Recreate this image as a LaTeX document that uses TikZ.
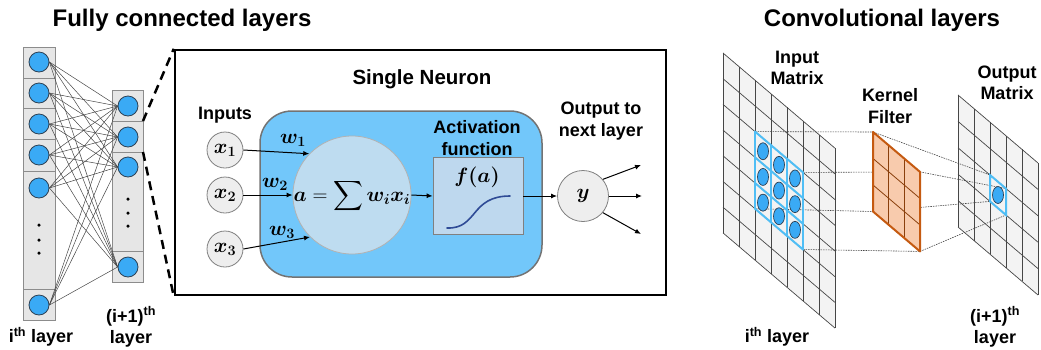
\documentclass[tikz,border=0pt]{standalone}
\usepackage{fontspec}
\setmainfont{Liberation Sans}
\usepackage{amsmath}
\usepackage{bm}
\usetikzlibrary{arrows.meta,shapes.geometric}
\pgfdeclarelayer{gridlayer}
\pgfdeclarelayer{linelayer}
\pgfsetlayers{gridlayer,linelayer,main}
\definecolor{nblue}{RGB}{58,170,245}
\definecolor{ndark}{RGB}{45,65,85}
\definecolor{cellfill}{RGB}{230,230,230}
\definecolor{cellline}{RGB}{140,140,140}
\definecolor{neurbg}{RGB}{114,199,250}
\definecolor{sumfill}{RGB}{190,220,240}
\definecolor{actfill}{RGB}{190,216,238}
\definecolor{inputfill}{RGB}{238,238,238}
\definecolor{sigblue}{RGB}{47,75,150}
\definecolor{gridfill}{RGB}{243,243,243}
\definecolor{gridline}{RGB}{70,70,70}
\definecolor{hiblue}{RGB}{80,190,245}
\definecolor{kfill}{RGB}{248,203,173}
\definecolor{kline}{RGB}{197,90,17}
\begin{document}
\begin{tikzpicture}[x=1pt,y=-1pt,
  title/.style={font=\fontsize{24}{28}\selectfont\bfseries},
  lab/.style={font=\fontsize{18}{21.5}\selectfont\bfseries, align=center, inner sep=0pt},
  mlab/.style={font=\fontsize{20}{22}\selectfont, inner sep=0pt},
  cellbox/.style={draw=cellline, fill=cellfill, line width=0.8pt},
  neuron/.style={circle, draw=ndark, fill=nblue, minimum size=20pt, inner sep=0pt, line width=0.8pt},
  fcline/.style={draw=gridline, line width=0.5pt},
  bigdash/.style={line width=2.5pt, dash pattern=on 9pt off 6pt},
  inc/.style={circle, draw=gray, fill=inputfill, minimum size=36pt, inner sep=0pt, line width=0.8pt, font=\fontsize{20}{22}\selectfont},
  arr/.style={-{Latex[length=6pt,width=5pt]}, line width=1pt},
  gline/.style={draw=gridline, line width=0.7pt},
  hib/.style={draw=hiblue, line width=2pt, line cap=round},
  dotell/.style={ellipse, draw=ndark, fill=nblue, minimum width=11pt, minimum height=17pt, inner sep=0pt, line width=0.7pt},
  dots/.style={circle, fill=black, minimum size=3.5pt, inner sep=0pt},
  dotline/.style={draw=gridline, line width=0.6pt, dash pattern=on 1.5pt off 1pt}
]
\useasboundingbox (0,0) rectangle (1041,349);

% ---------- titles ----------
\node[title] (t1) at (182,20) {Fully connected layers};
\node[title] (t2) at (882,20) {Convolutional layers};

% ---------- fully connected layers ----------
\draw[cellbox] (23,47) rectangle (55,78);
\draw[cellbox] (23,78) rectangle (55,108);
\draw[cellbox] (23,108) rectangle (55,139);
\draw[cellbox] (23,139) rectangle (55,171);
\draw[cellbox] (23,171) rectangle (55,289);
\draw[cellbox] (23,289) rectangle (55,320);

\draw[cellbox] (112,90) rectangle (143,121);
\draw[cellbox] (112,121) rectangle (143,152);
\draw[cellbox] (112,152) rectangle (143,251);
\draw[cellbox] (112,251) rectangle (143,282);

\node[neuron] (L1) at (39,62) {};
\node[neuron] (L2) at (39,93) {};
\node[neuron] (L3) at (39,124) {};
\node[neuron] (L4) at (39,155) {};
\node[neuron] (L5) at (39,188) {};
\node[neuron] (L6) at (39,305) {};
\node[dots] (ld1) at (39,225) {};
\node[dots] (ld2) at (39,240) {};
\node[dots] (ld3) at (39,253) {};

\node[neuron] (R1) at (128,106) {};
\node[neuron] (R2) at (128,137) {};
\node[neuron] (R3) at (128,167) {};
\node[neuron] (R4) at (128,267) {};
\node[dots] (rd1) at (128,199) {};
\node[dots] (rd2) at (128,213) {};
\node[dots] (rd3) at (128,226) {};

\foreach \l in {1,...,6}
  \foreach \r in {1,...,4}
    \draw[fcline] (L\l.east) -- (R\r.west);

\node[lab] (li) at (41,337) {i\textsuperscript{th} layer};
\node[lab] (lj) at (131,327) {(i+1)\textsuperscript{th}\\layer};

% ---------- single neuron box ----------
\node[draw, line width=2.5pt, minimum width=491pt, minimum height=245pt, inner sep=0pt] (box) at (420.5,172.5) {};
\coordinate (dA) at (143,121);
\coordinate (dB) at (143,152);
\draw[bigdash] (dA) -- (box.north west);
\draw[bigdash] (dB) -- (box.south west);

\node[font=\fontsize{20.5}{24}\selectfont\bfseries] (tsn) at (422,79) {Single Neuron};

\node[draw=gray!90!black, fill=neurbg, rounded corners=32pt, minimum width=282pt, minimum height=166pt, line width=1.5pt] (nbg) at (401,194) {};

\node[circle, draw=gray!60, fill=sumfill, minimum size=118pt, inner sep=0pt, line width=0.8pt] (sum) at (352,195) {};
\node[mlab, font=\fontsize{21}{24}\selectfont] (sumtxt) at (352,196) {$\displaystyle \bm{a} = \sum \bm{w_i x_i}$};

\node[lab] (tin) at (225,115) {Inputs};
\node[inc] (x1) at (225,150) {$\bm{x_1}$};
\node[inc] (x2) at (225,195) {$\bm{x_2}$};
\node[inc] (x3) at (225,249) {$\bm{x_3}$};

\draw[arr] (x1.east) -- (sum.136);
\draw[arr] (x2.east) -- (sum.west);
\draw[arr] (x3.east) -- (sum.225);
\node[mlab] (w1) at (293,140) {$\bm{w_1}$};
\node[mlab] (w2) at (275,184) {$\bm{w_2}$};
\node[mlab] (w3) at (282,232) {$\bm{w_3}$};

\node[lab] (tact) at (477,138) {Activation\\function};
\node[draw=gray, fill=actfill, minimum width=90pt, minimum height=77pt, inner sep=0pt, line width=0.8pt] (act) at (478,196) {};
\node[mlab] (fa) at (477,177) {$\bm{f(a)}$};
\coordinate (s0) at (447,228);
\coordinate (s1) at (510,196);
\draw[sigblue, line width=1.6pt, line cap=round] (s0) .. controls (478,229) and (470,196) .. (s1);

\draw[arr] (sum.east) -- (act.west);

\node[inc, minimum size=51pt] (y) at (583,196) {$\bm{y}$};
\draw[arr] (act.east) -- (y.west);
\node[lab] (tout) at (601,121) {Output to\\next layer};
\coordinate (o1) at (641,165);
\coordinate (o2) at (642,196);
\coordinate (o3) at (641,234);
\draw[arr] (y.40) -- (o1);
\draw[arr] (y.east) -- (o2);
\draw[arr] (y.-40) -- (o3);

% ---------- convolutional layers ----------
% input matrix
\begin{scope}[shift={(723,53)}, x={(16pt,-13.6pt)}, y={(0pt,-25.7pt)}]
  \begin{pgfonlayer}{gridlayer}
    \fill[gridfill] (0,0) -- (7,0) -- (7,7) -- (0,7) -- cycle;
    \foreach \i in {0,...,7} {
      \draw[gline] (\i,0) -- (\i,7);
      \draw[gline] (0,\i) -- (7,\i);
    }
  \end{pgfonlayer}
  \foreach \i in {2,...,5} {
    \draw[hib] (\i,2) -- (\i,5);
    \draw[hib] (2,\i) -- (5,\i);
  }
  \foreach \i in {2,3,4}
    \foreach \j in {2,3,4}
      \node[dotell] (e\i\j) at (\i+0.5,\j+0.5) {};
  \coordinate (iTL) at (2,2);
  \coordinate (iTR) at (5,2);
  \coordinate (iBL) at (2,5);
  \coordinate (iBR) at (5,5);
\end{scope}

% kernel
\begin{scope}[shift={(873,132)}, x={(15.67pt,-13.3pt)}, y={(0pt,-26.5pt)}]
  \fill[kfill] (0,0) -- (3,0) -- (3,3) -- (0,3) -- cycle;
  \foreach \i in {1,2} {
    \draw[kline!70!black, line width=0.8pt] (\i,0) -- (\i,3);
    \draw[kline!70!black, line width=0.8pt] (0,\i) -- (3,\i);
  }
  \draw[kline, line width=2pt, line join=round] (0,0) -- (3,0) -- (3,3) -- (0,3) -- cycle;
  \coordinate (kTL) at (0,0);
  \coordinate (kTR) at (3,0);
  \coordinate (kBL) at (0,3);
  \coordinate (kBR) at (3,3);
\end{scope}

% output matrix
\begin{scope}[shift={(958,95)}, x={(16pt,-13.6pt)}, y={(0pt,-26.4pt)}]
  \begin{pgfonlayer}{gridlayer}
    \fill[gridfill] (0,0) -- (5,0) -- (5,5) -- (0,5) -- cycle;
    \foreach \i in {0,...,5} {
      \draw[gline] (\i,0) -- (\i,5);
      \draw[gline] (0,\i) -- (5,\i);
    }
  \end{pgfonlayer}
  \draw[hib] (2,2) -- (3,2) -- (3,3) -- (2,3) -- cycle;
  \node[dotell] (eo) at (2.5,2.5) {};
  \coordinate (oTL) at (2,2);
  \coordinate (oTR) at (3,2);
  \coordinate (oBL) at (2,3);
  \coordinate (oBR) at (3,3);
\end{scope}

\begin{pgfonlayer}{linelayer}
  \draw[dotline] (iTL) -- (kTL);
  \draw[dotline] (iTR) -- (kTR);
  \draw[dotline] (iBL) -- (kBL);
  \draw[dotline] (iBR) -- (kBR);
  \draw[dotline] (kTL) -- (oTL);
  \draw[dotline] (kTR) -- (oTR);
  \draw[dotline] (kBL) -- (oBL);
  \draw[dotline] (kBR) -- (oBR);
\end{pgfonlayer}

\node[lab] (tim) at (797,68) {Input\\Matrix};
\node[lab] (tkf) at (890,106) {Kernel\\Filter};
\node[lab] (tom) at (1007,83) {Output\\Matrix};
\node[lab] (ci) at (777,337) {i\textsuperscript{th} layer};
\node[lab] (cj) at (995,327) {(i+1)\textsuperscript{th}\\layer};
\end{tikzpicture}
\end{document}
